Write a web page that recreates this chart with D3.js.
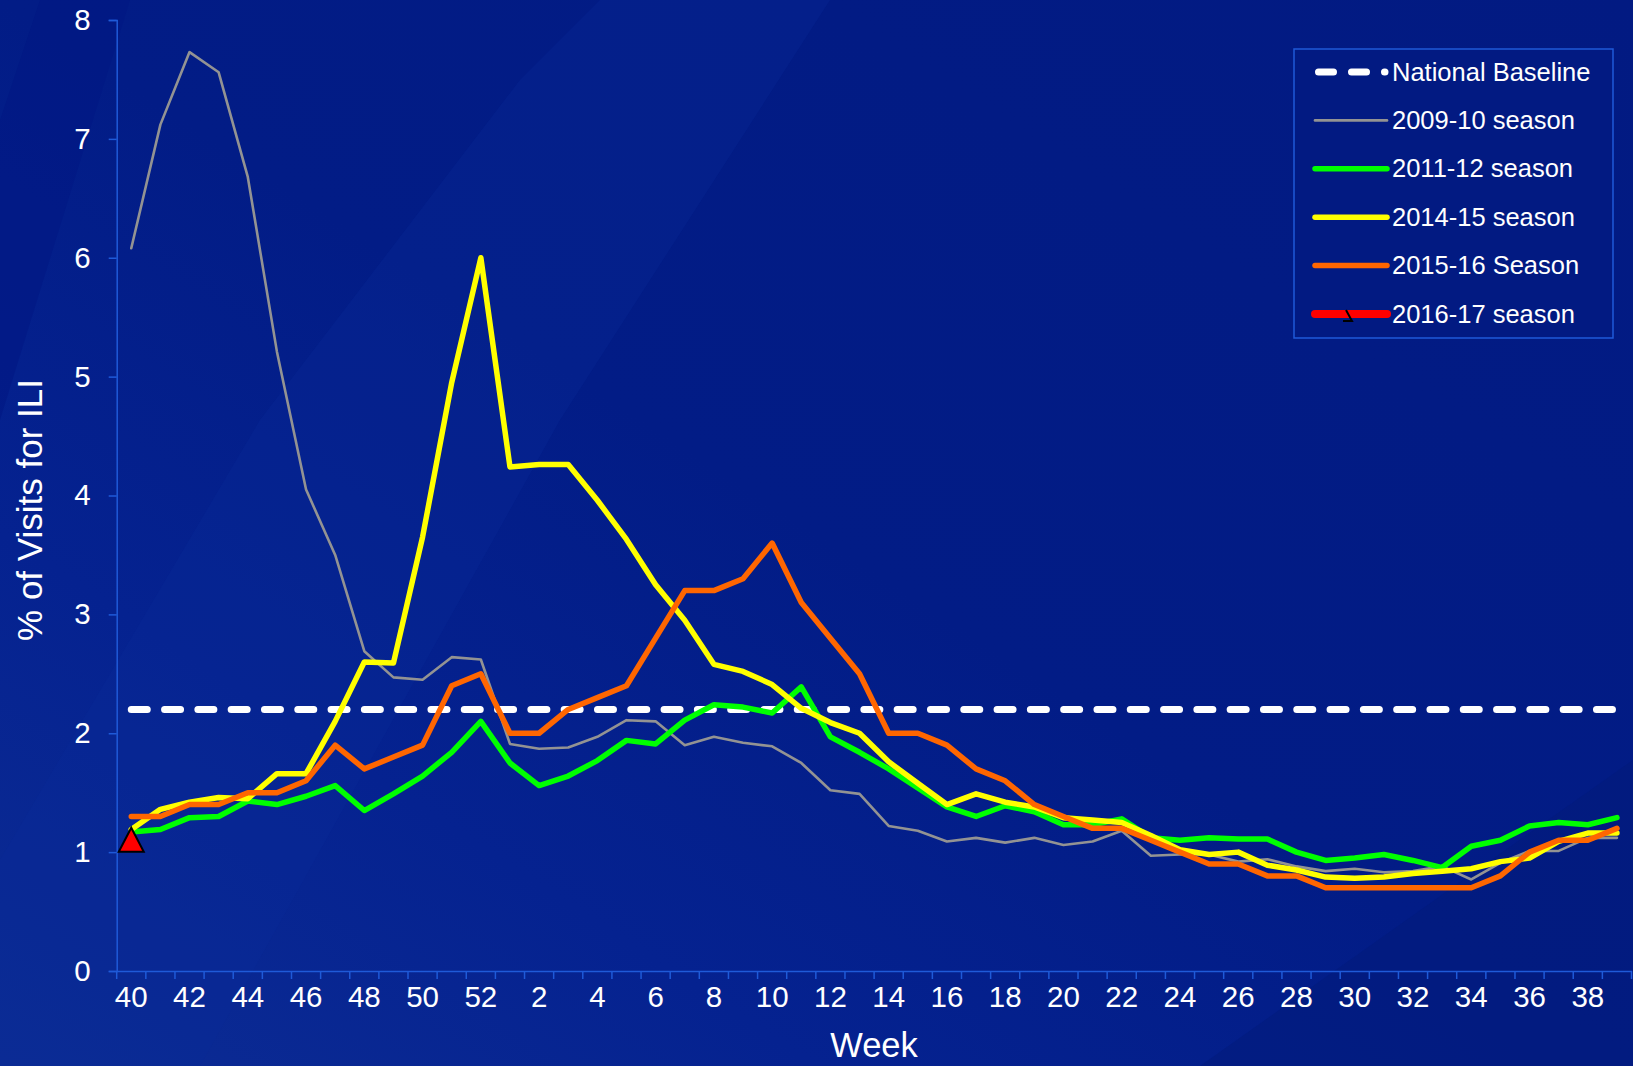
<!DOCTYPE html>
<html>
<head>
<meta charset="utf-8">
<script src="https://cdn.jsdelivr.net/npm/d3@7"></script>
<style>
  body { margin: 0; background: #021c86; }
  svg text { font-family: "Liberation Sans", Arial, sans-serif; fill: #ffffff; }
</style>
</head>
<body>
<div class="grafico"></div>
<script>
//size of the svg
var widthSVG = 1633;
var heightSVG = 1066;
var margem = {left: 116.7, right: 1631.5, top: 20, bottom: 971};

//weeks of the season (40 to 52, then 1 to 39)
var semanas = [40,41,42,43,44,45,46,47,48,49,50,51,52,
  1,2,3,4,5,6,7,8,9,10,11,12,13,14,15,16,17,18,19,20,21,22,23,24,25,26,27,28,29,30,
  31,32,33,34,35,36,37,38,39];
var yTicks = [0,1,2,3,4,5,6,7,8];

var baseline = 2.2;

var s2009 = [6.08,7.12,7.73,7.56,6.68,5.21,4.05,3.5,2.69,2.47,2.45,2.64,2.62,
  1.91,1.87,1.88,1.97,2.11,2.10,1.90,1.97,1.92,1.89,1.75,1.52,1.49,1.22,1.18,1.09,1.12,1.08,1.12,1.06,1.09,1.18,0.97,0.98,0.98,0.92,0.94,0.88,0.84,0.86,
  0.83,0.84,0.88,0.77,0.91,1.01,1.01,1.12,1.12];
var s2011 = [1.17,1.19,1.29,1.30,1.43,1.40,1.47,1.56,1.35,1.49,1.64,1.84,2.1,
  1.75,1.56,1.64,1.77,1.94,1.91,2.11,2.24,2.22,2.17,2.39,1.97,1.84,1.70,1.54,1.38,1.30,1.39,1.34,1.23,1.23,1.28,1.12,1.10,1.12,1.11,1.11,1.00,0.93,0.95,
  0.98,0.93,0.87,1.05,1.10,1.22,1.25,1.23,1.29];
var s2014 = [1.19,1.36,1.42,1.46,1.45,1.66,1.66,2.1,2.6,2.59,3.65,4.95,6.0,
  4.24,4.26,4.26,3.96,3.63,3.25,2.95,2.58,2.52,2.41,2.21,2.09,2.0,1.76,1.58,1.40,1.49,1.42,1.38,1.29,1.27,1.25,1.14,1.02,0.98,1.0,0.89,0.85,0.79,0.78,
  0.79,0.82,0.84,0.86,0.92,0.95,1.09,1.16,1.16];
var s2015 = [1.3,1.3,1.4,1.4,1.5,1.5,1.6,1.9,1.7,1.8,1.9,2.4,2.5,
  2.0,2.0,2.2,2.3,2.4,2.8,3.2,3.2,3.3,3.6,3.1,2.8,2.5,2.0,2.0,1.9,1.7,1.6,1.4,1.3,1.2,1.2,1.1,1.0,0.9,0.9,0.8,0.8,0.7,0.7,
  0.7,0.7,0.7,0.7,0.8,1.0,1.1,1.1,1.2];
var s2016 = [1.1];

var nomes = ["National Baseline","2009-10 season","2011-12 season","2014-15 season","2015-16 Season","2016-17 season"];
var cores = ["#ffffff","#939393","#00ff00","#ffff00","#ff6600","#ff0000"];
var larguras = [7,2.6,5.5,5.5,5.5,9];

var series = [
  {nome: nomes[1], valores: s2009, cor: cores[1], w: larguras[1]},
  {nome: nomes[2], valores: s2011, cor: cores[2], w: larguras[2]},
  {nome: nomes[3], valores: s2014, cor: cores[3], w: larguras[3]},
  {nome: nomes[4], valores: s2015, cor: cores[4], w: larguras[4]}
];

var svg = d3.select(".grafico")
  .append("svg")
  .attr("width", widthSVG)
  .attr("height", heightSVG);

//background - dark blue, a bit lighter at the bottom left, with soft diagonal streaks
var defs = svg.append("defs");
var grad = defs.append("linearGradient")
  .attr("id", "fundo")
  .attr("x1", "0").attr("y1", "1").attr("x2", "1").attr("y2", "0");
grad.append("stop").attr("offset", "0").attr("stop-color", "#0c2c94");
grad.append("stop").attr("offset", "0.25").attr("stop-color", "#052290");
grad.append("stop").attr("offset", "0.5").attr("stop-color", "#021c86");
grad.append("stop").attr("offset", "1").attr("stop-color", "#021a82");

svg.append("rect")
  .attr("width", widthSVG)
  .attr("height", heightSVG)
  .attr("fill", "url(#fundo)");

svg.append("path")
  .attr("d", "M0,120 L40,0 L130,0 L0,420 Z")
  .attr("fill", "#011784")
  .attr("opacity", 0.6);
svg.append("path")
  .attr("d", "M0,1066 L0,860 L260,420 L520,80 L600,0 L830,0 L560,420 L200,1066 Z")
  .attr("fill", "#0b2b98")
  .attr("opacity", 0.3);
svg.append("path")
  .attr("d", "M1633,760 L1633,1066 L1200,1066 Z")
  .attr("fill", "#02197a")
  .attr("opacity", 0.5);

//scales
var xScale = d3.scaleBand()
  .domain(d3.range(semanas.length))
  .range([margem.left, margem.right])
  .padding(0);

var xCentro = function(i) { return xScale(i) + xScale.bandwidth() / 2; };

var yScale = d3.scaleLinear()
  .domain([0, 8])
  .range([margem.bottom, margem.top]);

//y axis
var y_axis = d3.axisLeft(yScale).tickValues(yTicks).tickSize(8).tickPadding(18);
var gy = svg.append("g")
  .attr("class", "coord y")
  .attr("transform", "translate(" + margem.left + ",0)")
  .call(y_axis);
gy.select(".domain").attr("stroke", "#1f5ad8").attr("stroke-width", 1.5);
gy.selectAll(".tick line").attr("stroke", "#1f5ad8").attr("stroke-width", 1.5);
gy.selectAll(".tick text")
  .attr("fill", "#ffffff")
  .style("font-size", "29.5px")
  .style("font-family", "Liberation Sans, Arial, sans-serif");

//x axis - labels every two weeks, ticks between the categories
var x_axis = d3.axisBottom(xScale)
  .tickValues(d3.range(0, semanas.length, 2))
  .tickFormat(function(i) { return semanas[i]; })
  .tickSize(0)
  .tickPadding(36);
var gx = svg.append("g")
  .attr("class", "coord x")
  .attr("transform", "translate(0," + margem.bottom + ")")
  .call(x_axis);
gx.select(".domain").attr("stroke", "#1f5ad8").attr("stroke-width", 1.5);
gx.selectAll(".tick text")
  .attr("fill", "#ffffff")
  .attr("dy", "0")
  .style("font-size", "29.5px")
  .style("font-family", "Liberation Sans, Arial, sans-serif");

gx.selectAll(".marca")
  .data(d3.range(semanas.length + 1))
  .enter()
  .append("line")
  .attr("class", "marca")
  .attr("x1", function(i) { return i < semanas.length ? xScale(i) : margem.right; })
  .attr("x2", function(i) { return i < semanas.length ? xScale(i) : margem.right; })
  .attr("y1", 0)
  .attr("y2", 8)
  .attr("stroke", "#1f5ad8")
  .attr("stroke-width", 1.5);

//axis titles
svg.append("text")
  .attr("text-anchor", "middle")
  .attr("transform", "translate(42,510) rotate(-90)")
  .style("font-size", "35px")
  .text("% of Visits for ILI");

svg.append("text")
  .attr("text-anchor", "middle")
  .attr("x", 874)
  .attr("y", 1057)
  .style("font-size", "34.5px")
  .text("Week");

//national baseline - dashed
svg.append("line")
  .attr("x1", xCentro(0))
  .attr("x2", xCentro(semanas.length - 1))
  .attr("y1", yScale(baseline))
  .attr("y2", yScale(baseline))
  .attr("stroke", cores[0])
  .attr("stroke-width", larguras[0])
  .attr("stroke-linecap", "round")
  .attr("stroke-dasharray", "16,17.3");

//line generator
var linha = d3.line()
  .x(function(d, i) { return xCentro(i); })
  .y(function(d) { return yScale(d); });

svg.selectAll(".serie")
  .data(series)
  .enter()
  .append("path")
  .attr("class", "serie")
  .attr("d", function(d) { return linha(d.valores); })
  .attr("fill", "none")
  .attr("stroke", function(d) { return d.cor; })
  .attr("stroke-width", function(d) { return d.w; })
  .attr("stroke-linejoin", "round")
  .attr("stroke-linecap", "round");

//2016-17 only has the first week - triangle marker
var triangulo = "M0,-12.5 L12.5,11.5 L-12.5,11.5 Z";
svg.selectAll(".marcador")
  .data(s2016)
  .enter()
  .append("path")
  .attr("class", "marcador")
  .attr("transform", function(d, i) { return "translate(" + xCentro(i) + "," + yScale(d) + ")"; })
  .attr("d", triangulo)
  .attr("fill", cores[5])
  .attr("stroke", "#000000")
  .attr("stroke-width", 2);

//Legend
svg.append("rect")
  .attr("x", 1294)
  .attr("y", 49)
  .attr("width", 319)
  .attr("height", 289)
  .attr("fill", "#021a82")
  .attr("stroke", "#1f5ad8")
  .attr("stroke-width", 1.5);

var legenda = svg.append("g")
  .attr("transform", "translate(1315,72)")
  .selectAll(".legendas")
  .data(nomes)
  .enter()
  .append("g")
  .classed("legendas", true)
  .attr("transform", function(d, i) { return "translate(0," + (i * 48.4) + ")"; });

legenda.append("line")
  .attr("x1", function(d, i) { return i == 0 ? 3.5 : 0; })
  .attr("x2", function(d, i) { return i == 0 ? 70 : 72; })
  .attr("y1", 0)
  .attr("y2", 0)
  .attr("stroke", function(d, i) { return cores[i]; })
  .attr("stroke-width", function(d, i) { return i == 0 ? 7 : (i == 1 ? 2.6 : (i == 5 ? 8 : 5.5)); })
  .attr("stroke-linecap", "round")
  .attr("stroke-dasharray", function(d, i) { return i == 0 ? "15,18" : null; });

//small piece of the triangle marker on the 2016-17 legend
legenda.filter(function(d, i) { return i == 5; })
  .append("path")
  .attr("d", "M31,-4 L37,7 L28,7")
  .attr("fill", "none")
  .attr("stroke", "#000000")
  .attr("stroke-width", 2);

legenda.append("text")
  .attr("x", 77)
  .attr("y", 8.5)
  .style("font-size", "25.5px")
  .text(function(d) { return d; });
</script>
</body>
</html>
